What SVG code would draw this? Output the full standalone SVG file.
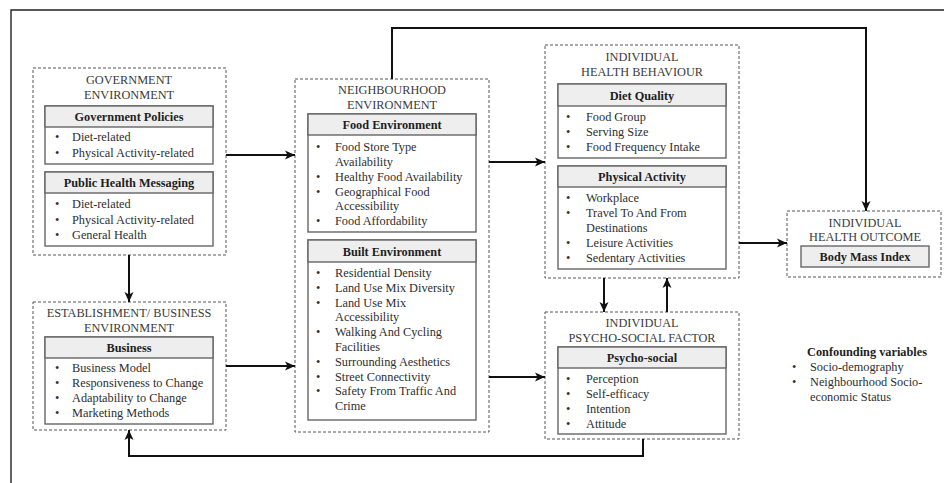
<svg xmlns="http://www.w3.org/2000/svg" width="944" height="483" viewBox="0 0 944 483">
  <style>
    text { font-family: "Liberation Serif", "Times New Roman", serif; font-size: 12.3px; fill: #2e2e2e; }
    .title { text-anchor: middle; fill: #3a3a3a; }
    .head { text-anchor: middle; font-weight: bold; fill: #1e1e1e; }
    .group { fill: none; stroke: #555; stroke-width: 1; stroke-dasharray: 3 2; }
    .card { fill: #fff; stroke: #666; stroke-width: 1.4; }
    .band { fill: #eeeeee; stroke: #666; stroke-width: 1.4; }
    .link { fill: none; stroke: #111; stroke-width: 2; marker-end: url(#arrow); }
    .frame { fill: none; stroke: #222; stroke-width: 1.4; }
  </style>
  <defs>
    <marker id="arrow" markerUnits="userSpaceOnUse" markerWidth="11" markerHeight="10" refX="10" refY="5" orient="auto">
      <path d="M0,0.5 L10,5 L0,9.5 L2.5,5 z" fill="#111"/>
    </marker>
  </defs>

  <rect width="944" height="483" fill="#fff"/>
  <path class="frame" d="M11,483 V10 H944"/>

  <!-- Government environment -->
  <g id="government">
    <rect class="group" x="33" y="68" width="193" height="187"/>
    <text class="title" x="129" y="84">GOVERNMENT</text>
    <text class="title" x="129" y="99">ENVIRONMENT</text>
    <rect class="card" x="45" y="106" width="168" height="58"/>
    <rect class="band" x="45" y="106" width="168" height="21"/>
    <text class="head" x="129" y="121">Government Policies</text>
    <text x="55" y="141">•</text><text x="72" y="141">Diet-related</text>
    <text x="55" y="157">•</text><text x="72" y="157">Physical Activity-related</text>
    <rect class="card" x="45" y="172" width="168" height="74"/>
    <rect class="band" x="45" y="172" width="168" height="21"/>
    <text class="head" x="129" y="187">Public Health Messaging</text>
    <text x="55" y="208">•</text><text x="72" y="208">Diet-related</text>
    <text x="55" y="224">•</text><text x="72" y="224">Physical Activity-related</text>
    <text x="55" y="239">•</text><text x="72" y="239">General Health</text>
  </g>

  <!-- Establishment / business environment -->
  <g id="business">
    <rect class="group" x="33" y="302" width="193" height="128"/>
    <text class="title" x="129" y="317">ESTABLISHMENT/ BUSINESS</text>
    <text class="title" x="129" y="332">ENVIRONMENT</text>
    <rect class="card" x="45" y="337" width="168" height="87"/>
    <rect class="band" x="45" y="337" width="168" height="21"/>
    <text class="head" x="129" y="352">Business</text>
    <text x="55" y="372">•</text><text x="72" y="372">Business Model</text>
    <text x="55" y="387">•</text><text x="72" y="387">Responsiveness to Change</text>
    <text x="55" y="402">•</text><text x="72" y="402">Adaptability to Change</text>
    <text x="55" y="417">•</text><text x="72" y="417">Marketing Methods</text>
  </g>

  <!-- Neighbourhood environment -->
  <g id="neighbourhood">
    <rect class="group" x="295" y="79" width="194" height="353"/>
    <text class="title" x="392" y="94">NEIGHBOURHOOD</text>
    <text class="title" x="392" y="109">ENVIRONMENT</text>
    <rect class="card" x="308" y="114" width="168" height="118"/>
    <rect class="band" x="308" y="114" width="168" height="21"/>
    <text class="head" x="392" y="129">Food Environment</text>
    <text x="316" y="151">•</text><text x="335" y="151">Food Store Type</text>
    <text x="335" y="166">Availability</text>
    <text x="316" y="181">•</text><text x="335" y="181">Healthy Food Availability</text>
    <text x="316" y="196">•</text><text x="335" y="196">Geographical Food</text>
    <text x="335" y="210">Accessibility</text>
    <text x="316" y="225">•</text><text x="335" y="225">Food Affordability</text>
    <rect class="card" x="308" y="240" width="168" height="180"/>
    <rect class="band" x="308" y="240" width="168" height="22"/>
    <text class="head" x="392" y="256">Built Environment</text>
    <text x="316" y="277">•</text><text x="335" y="277">Residential Density</text>
    <text x="316" y="292">•</text><text x="335" y="292">Land Use Mix Diversity</text>
    <text x="316" y="307">•</text><text x="335" y="307">Land Use Mix</text>
    <text x="335" y="321">Accessibility</text>
    <text x="316" y="336">•</text><text x="335" y="336">Walking And Cycling</text>
    <text x="335" y="351">Facilities</text>
    <text x="316" y="366">•</text><text x="335" y="366">Surrounding Aesthetics</text>
    <text x="316" y="381">•</text><text x="335" y="381">Street Connectivity</text>
    <text x="316" y="395">•</text><text x="335" y="395">Safety From Traffic And</text>
    <text x="335" y="410">Crime</text>
  </g>

  <!-- Individual health behaviour -->
  <g id="behaviour">
    <rect class="group" x="545" y="45" width="194" height="233"/>
    <text class="title" x="642" y="61">INDIVIDUAL</text>
    <text class="title" x="642" y="76">HEALTH BEHAVIOUR</text>
    <rect class="card" x="558" y="84" width="168" height="74"/>
    <rect class="band" x="558" y="84" width="168" height="22"/>
    <text class="head" x="642" y="100">Diet Quality</text>
    <text x="566" y="121">•</text><text x="586" y="121">Food Group</text>
    <text x="566" y="136">•</text><text x="586" y="136">Serving Size</text>
    <text x="566" y="151">•</text><text x="586" y="151">Food Frequency Intake</text>
    <rect class="card" x="558" y="166" width="168" height="103"/>
    <rect class="band" x="558" y="166" width="168" height="21"/>
    <text class="head" x="642" y="181">Physical Activity</text>
    <text x="566" y="202">•</text><text x="586" y="202">Workplace</text>
    <text x="566" y="217">•</text><text x="586" y="217">Travel To And From</text>
    <text x="586" y="232">Destinations</text>
    <text x="566" y="247">•</text><text x="586" y="247">Leisure Activities</text>
    <text x="566" y="262">•</text><text x="586" y="262">Sedentary Activities</text>
  </g>

  <!-- Individual psycho-social factor -->
  <g id="psychosocial">
    <rect class="group" x="545" y="312" width="194" height="127"/>
    <text class="title" x="642" y="327">INDIVIDUAL</text>
    <text class="title" x="642" y="342">PSYCHO-SOCIAL FACTOR</text>
    <rect class="card" x="558" y="347" width="168" height="87"/>
    <rect class="band" x="558" y="347" width="168" height="21"/>
    <text class="head" x="642" y="362">Psycho-social</text>
    <text x="566" y="383">•</text><text x="586" y="383">Perception</text>
    <text x="566" y="398">•</text><text x="586" y="398">Self-efficacy</text>
    <text x="566" y="413">•</text><text x="586" y="413">Intention</text>
    <text x="566" y="428">•</text><text x="586" y="428">Attitude</text>
  </g>

  <!-- Individual health outcome -->
  <g id="outcome">
    <rect class="group" x="787" y="211" width="154" height="66"/>
    <text class="title" x="865" y="227">INDIVIDUAL</text>
    <text class="title" x="865" y="241">HEALTH OUTCOME</text>
    <rect class="band" x="801" y="246" width="128" height="21"/>
    <text class="head" x="865" y="261">Body Mass Index</text>
  </g>

  <!-- Confounding variables note -->
  <g id="confounders">
    <text class="head" x="867" y="356">Confounding variables</text>
    <text x="792" y="371">•</text><text x="810" y="371">Socio-demography</text>
    <text x="792" y="386">•</text><text x="810" y="386">Neighbourhood Socio-</text>
    <text x="810" y="401">economic Status</text>
  </g>

  <!-- Connectors -->
  <g id="connectors">
    <path class="link" d="M226,155 H295"/>
    <path class="link" d="M226,366 H295"/>
    <path class="link" d="M129,255 V302"/>
    <path class="link" d="M489,162 H545"/>
    <path class="link" d="M489,377 H545"/>
    <path class="link" d="M604,278 V312"/>
    <path class="link" d="M667,312 V278"/>
    <path class="link" d="M739,243 H787"/>
    <path class="link" d="M392,79 V28 H866 V211"/>
    <path class="link" d="M643,439 V456 H129 V430"/>
  </g>
</svg>
